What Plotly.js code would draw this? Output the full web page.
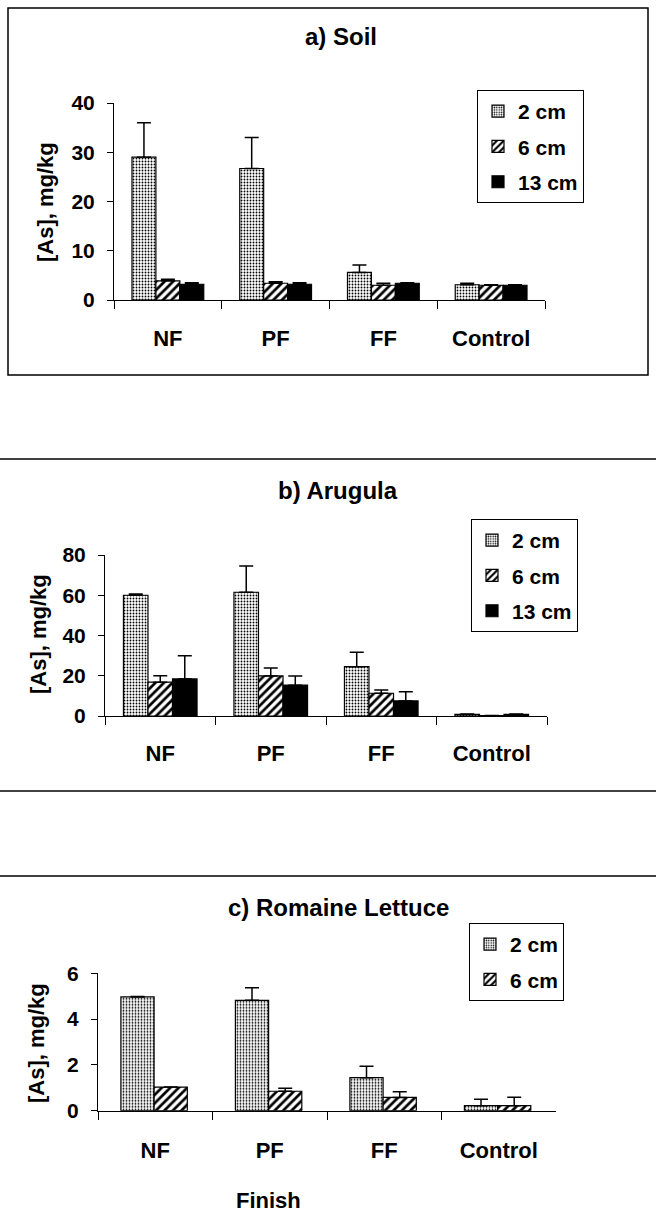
<!DOCTYPE html>
<html>
<head>
<meta charset="utf-8">
<script src="https://cdn.plot.ly/plotly-3.0.1.min.js"></script>
<style>
  html, body { margin: 0; padding: 0; background: #fff; }
  #chart { width: 656px; height: 1230px; }
</style>
</head>
<body>
<div id="chart"></div>
<script>
// Arsenic concentrations by finish type and sampling depth
const categories = ['NF', 'PF', 'FF', 'Control'];
const depthNames = ['2 cm', '6 cm', '13 cm'];

// a) Soil
const soil2 = [29.0, 26.7, 5.6, 3.1];
const soil2Err = [7.0, 6.3, 1.5, 0.3];
const soil6 = [3.9, 3.4, 3.0, 3.0];
const soil6Err = [0.3, 0.3, 0.4, 0.1];
const soil13 = [3.2, 3.2, 3.4, 3.0];
const soil13Err = [0.3, 0.3, 0.1, 0.1];

// b) Arugula
const arugula2 = [60.0, 61.5, 24.5, 0.8];
const arugula2Err = [0.6, 13.0, 7.2, 0.2];
const arugula6 = [16.8, 19.9, 11.3, 0.2];
const arugula6Err = [3.2, 4.0, 1.6, 0.1];
const arugula13 = [18.4, 15.3, 7.5, 0.8];
const arugula13Err = [11.6, 4.6, 4.6, 0.2];

// c) Romaine lettuce
const lettuce2 = [4.97, 4.82, 1.44, 0.22];
const lettuce2Err = [0.02, 0.55, 0.50, 0.28];
const lettuce6 = [1.03, 0.85, 0.58, 0.22];
const lettuce6Err = [0.0, 0.13, 0.25, 0.37];

const panelTitles = ['a) Soil', 'b) Arugula', 'c) Romaine Lettuce'];
const yTitle = '[As], mg/kg';
const xTitle = 'Finish';

const FONT = 'Liberation Sans, Arial, Helvetica, sans-serif';
const W = 656, H = 1230;
const px = x => x / W;
const py = y => 1 - y / H;

const depthStyles = [
  { pattern: { shape: '.', fgcolor: '#000', bgcolor: '#fff', size: 3, solidity: 0.3, fillmode: 'replace' }, color: '#fff' },
  { pattern: { shape: '/', fgcolor: '#000', bgcolor: '#fff', size: 6, solidity: 0.45, fillmode: 'replace' }, color: '#fff' },
  { pattern: { shape: '', fgcolor: '#000' }, color: '#000' }
];

function barTrace(values, errs, depthIdx, axisIdx, width, offset) {
  const sfx = axisIdx === 1 ? '' : String(axisIdx);
  const st = depthStyles[depthIdx];
  return {
    type: 'bar',
    name: depthNames[depthIdx],
    x: categories,
    y: values,
    xaxis: 'x' + sfx,
    yaxis: 'y' + sfx,
    legend: 'legend' + sfx,
    legendgroup: 'p' + axisIdx + 'd' + depthIdx,
    width: width,
    offset: offset,
    marker: {
      color: st.color,
      pattern: st.pattern,
      line: { color: '#000', width: 1.2 }
    },
    error_y: {
      type: 'data', array: errs, symmetric: false,
      arrayminus: errs.map(() => 0),
      color: '#000', thickness: 1.5, width: 7
    },
    hoverinfo: 'skip'
  };
}

const w3 = 0.222, w2 = 0.29;
const data = [
  barTrace(soil2, soil2Err, 0, 1, w3, -0.333),
  barTrace(soil6, soil6Err, 1, 1, w3, -0.111),
  barTrace(soil13, soil13Err, 2, 1, w3, 0.111),
  barTrace(arugula2, arugula2Err, 0, 2, w3, -0.333),
  barTrace(arugula6, arugula6Err, 1, 2, w3, -0.111),
  barTrace(arugula13, arugula13Err, 2, 2, w3, 0.111),
  barTrace(lettuce2, lettuce2Err, 0, 3, w2, -0.30),
  barTrace(lettuce6, lettuce6Err, 1, 3, w2, -0.01)
];

const axisFont = { family: FONT, size: 21, color: '#000', weight: 700 };
const catFont = { family: FONT, size: 22, color: '#000', weight: 700 };

function xAxis(domain, anchor, standoff) {
  return {
    domain: domain, anchor: anchor, type: 'category',
    range: [-0.5, 3.5], tickson: 'boundaries',
    showline: true, linecolor: '#000', linewidth: 1,
    ticks: 'outside', ticklen: 8, tickcolor: '#000', tickwidth: 1,
    showgrid: false, zeroline: false,
    tickfont: catFont, ticklabelstandoff: standoff, fixedrange: true
  };
}
function yAxis(domain, anchor, max, step) {
  return {
    domain: domain, anchor: anchor, range: [0, max], dtick: step,
    showline: true, linecolor: '#000', linewidth: 1,
    ticks: 'outside', ticklen: 6, tickcolor: '#000', tickwidth: 1,
    showgrid: false, zeroline: false,
    tickfont: axisFont, ticklabelstandoff: 8, fixedrange: true
  };
}
function legendAt(left, top) {
  return {
    x: px(left), y: py(top), xanchor: 'left', yanchor: 'top',
    bordercolor: '#000', borderwidth: 1, bgcolor: '#fff',
    font: { family: FONT, size: 21, color: '#000', weight: 700 },
    tracegroupgap: 5, itemwidth: 30
  };
}
function textAnn(text, x, y, size, angle) {
  return {
    text: text, xref: 'paper', yref: 'paper', x: px(x), y: py(y),
    xanchor: 'center', yanchor: 'middle', showarrow: false,
    textangle: angle || 0,
    font: { family: FONT, size: size, color: '#000', weight: 700 }
  };
}

const layout = {
  width: W, height: H,
  margin: { l: 0, r: 0, t: 0, b: 0 },
  paper_bgcolor: '#fff', plot_bgcolor: 'rgba(0,0,0,0)',
  showlegend: true,
  xaxis: xAxis([px(114), px(545)], 'y', 19),
  yaxis: yAxis([py(300), py(103)], 'x', 40, 10),
  xaxis2: xAxis([px(105), px(547)], 'y2', 18),
  yaxis2: yAxis([py(716), py(555)], 'x2', 80, 20),
  xaxis3: xAxis([px(98), px(556)], 'y3', 20),
  yaxis3: yAxis([py(1110.7), py(973.3)], 'x3', 6, 2),
  legend: legendAt(477, 90),
  legend2: legendAt(471, 519),
  legend3: legendAt(469, 923),
  annotations: [
    textAnn(panelTitles[0], 341, 37, 24),
    textAnn(panelTitles[1], 338, 490, 24),
    textAnn(panelTitles[2], 338, 908, 24),
    textAnn(yTitle, 46, 202, 22, -90),
    textAnn(yTitle, 38, 634, 22, -90),
    textAnn(yTitle, 36, 1043, 22, -90),
    textAnn(xTitle, 268, 1200, 22)
  ],
  shapes: [
    { type: 'rect', xref: 'paper', yref: 'paper', x0: px(8), x1: px(648), y0: py(375), y1: py(8),
      line: { color: '#000', width: 1.5 } },
    { type: 'line', xref: 'paper', yref: 'paper', x0: 0, x1: 1, y0: py(459), y1: py(459),
      line: { color: '#000', width: 1.5 } },
    { type: 'line', xref: 'paper', yref: 'paper', x0: 0, x1: 1, y0: py(791), y1: py(791),
      line: { color: '#000', width: 1.5 } },
    { type: 'line', xref: 'paper', yref: 'paper', x0: 0, x1: 1, y0: py(876), y1: py(876),
      line: { color: '#000', width: 1.5 } }
  ]
};

Plotly.newPlot('chart', data, layout, { staticPlot: true, displayModeBar: false });
</script>
</body>
</html>
